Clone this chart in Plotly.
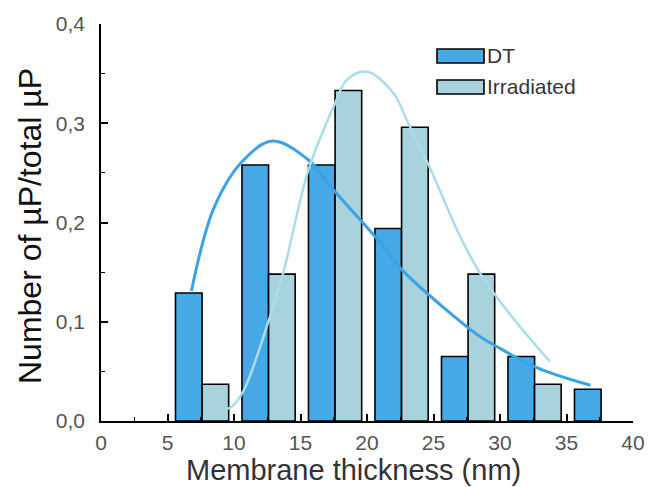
import plotly.graph_objects as go

# Histogram data
dt_x = [6.6, 11.6, 16.6, 21.6, 26.6, 31.6, 36.6]
dt_y = [0.129, 0.258, 0.258, 0.194, 0.065, 0.065, 0.032]
irr_x = [8.6, 13.6, 18.6, 23.6, 28.6, 33.6]
irr_y = [0.037, 0.148, 0.333, 0.296, 0.148, 0.037]

# Fitted curves
dt_fit_x = [6.8, 8.5, 10.65, 12.9, 15.6, 17.6, 20.6, 22.65, 25.7, 28.5, 29.75, 32.9, 36.8]
dt_fit_y = [0.131, 0.215, 0.262, 0.282, 0.263, 0.231, 0.186, 0.152, 0.115, 0.085, 0.075, 0.053, 0.036]
irr_fit_x = [9.4, 9.8, 10.7, 12.7, 13.7, 15.6, 17.6, 18.5, 20.0, 22.0, 23.1, 24.7, 27.0, 28.5, 29.75, 31.5, 33.75]
irr_fit_y = [0.012, 0.014, 0.030, 0.105, 0.149, 0.253, 0.320, 0.344, 0.352, 0.330, 0.300, 0.256, 0.186, 0.149, 0.125, 0.095, 0.060]

x_ticks = [0, 5, 10, 15, 20, 25, 30, 35, 40]
y_ticks = [0.0, 0.1, 0.2, 0.3, 0.4]
y_ticklabels = ["0,0", "0,1", "0,2", "0,3", "0,4"]

DT_COLOR = "#45a9e6"
IRR_COLOR = "#a8d3dd"
DT_LINE = "#3aa3e6"
IRR_LINE = "#a9dcec"
FONT = "Liberation Sans, Arial"

# plot area in pixels
L, R, T, B = 101, 633, 24, 421
W, H = R - L, B - T

def px_x(p):
    return (p - L) / W

def px_y(p):
    return 1 - (p - T) / H

fig = go.Figure()
fig.add_trace(go.Bar(x=dt_x, y=dt_y, width=2, name="DT",
                     marker=dict(color=DT_COLOR, line=dict(color="black", width=1.6)),
                     showlegend=False))
fig.add_trace(go.Bar(x=irr_x, y=irr_y, width=2, name="Irradiated",
                     marker=dict(color=IRR_COLOR, line=dict(color="black", width=1.6)),
                     showlegend=False))
fig.add_trace(go.Scatter(x=dt_fit_x, y=dt_fit_y, mode="lines",
                         line=dict(color=DT_LINE, width=3, shape="spline", smoothing=1.0),
                         showlegend=False))
fig.add_trace(go.Scatter(x=irr_fit_x, y=irr_fit_y, mode="lines",
                         line=dict(color=IRR_LINE, width=2.5, shape="spline", smoothing=1.0),
                         showlegend=False))

# custom legend
legend_names = ["DT", "Irradiated"]
legend_colors = [DT_COLOR, IRR_COLOR]
shapes = []
annotations = []
for i, (name, col) in enumerate(zip(legend_names, legend_colors)):
    top = 49 + i * 31
    shapes.append(dict(type="rect", xref="paper", yref="paper",
                       x0=px_x(437), x1=px_x(484), y0=px_y(top + 14), y1=px_y(top),
                       fillcolor=col, line=dict(color="black", width=1.6)))
    annotations.append(dict(text=name, xref="paper", yref="paper",
                            x=px_x(485), y=px_y(top + 7),
                            xanchor="left", yanchor="middle", showarrow=False,
                            font=dict(family=FONT, size=21, color="#3a3340")))

# axis titles
annotations.append(dict(text="Membrane thickness (nm)", xref="paper", yref="paper",
                        x=px_x(353), y=px_y(470), xanchor="center", yanchor="middle",
                        showarrow=False, font=dict(family=FONT, size=29, color="#333")))
annotations.append(dict(text="Number of µP/total µP", xref="paper", yref="paper",
                        x=px_x(30), y=px_y(226), xanchor="center", yanchor="middle",
                        textangle=-90, showarrow=False,
                        font=dict(family=FONT, size=32, color="#111")))

fig.update_layout(
    width=650, height=487,
    margin=dict(l=L, r=650 - R, t=T, b=487 - B, autoexpand=False),
    plot_bgcolor="white", paper_bgcolor="white",
    barmode="overlay",
    shapes=shapes, annotations=annotations,
    font=dict(family=FONT, color="#444"),
)
fig.update_xaxes(range=[0, 40], tickvals=x_ticks, ticks="inside", ticklen=7,
                 tickcolor="black", tickwidth=1.5,
                 minor=dict(ticks="inside", ticklen=4, dtick=2.5, tickcolor="black", tickwidth=1.2),
                 showline=True, linecolor="black", linewidth=1.6, showgrid=False, zeroline=False,
                 automargin=False, ticklabelstandoff=2,
                 tickfont=dict(family=FONT, size=21, color="#555"))
fig.update_yaxes(range=[0, 0.4], tickvals=y_ticks, ticktext=y_ticklabels, ticks="inside", ticklen=7,
                 tickcolor="black", tickwidth=1.5,
                 minor=dict(ticks="inside", ticklen=4, dtick=0.05, tickcolor="black", tickwidth=1.2),
                 showline=True, linecolor="black", linewidth=1.6, showgrid=False, zeroline=False,
                 automargin=False, ticklabelstandoff=10,
                 tickfont=dict(family=FONT, size=21, color="#555"))

fig.write_html("out.html",
               config={"displayModeBar": False},
               post_script="document.body.style.margin='0';document.body.style.overflow='hidden';")
